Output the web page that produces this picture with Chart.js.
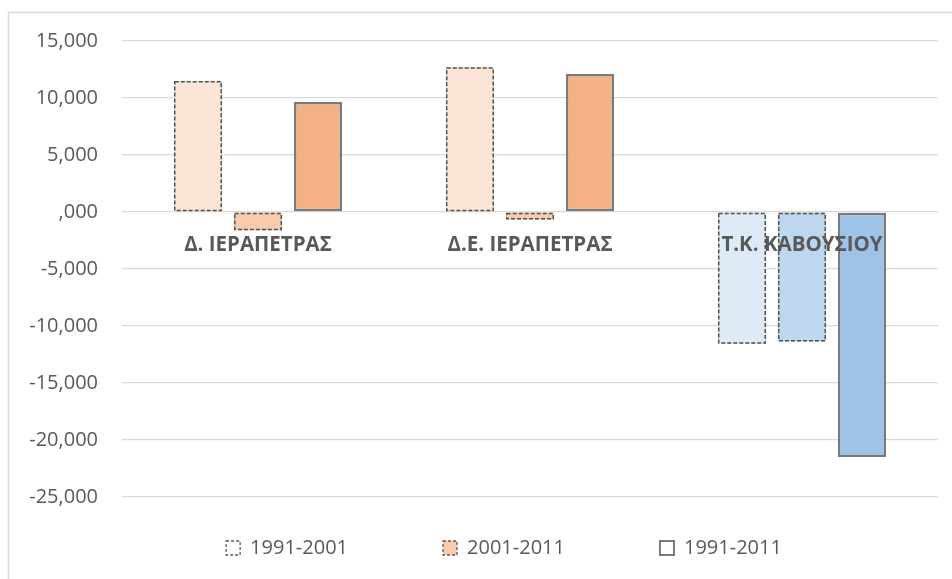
<!DOCTYPE html>
<html>
<head>
<meta charset="utf-8">
<script src="https://cdn.jsdelivr.net/npm/chart.js@4.4.1/dist/chart.umd.min.js"></script>
<style>
  html, body { margin: 0; padding: 0; background: #ffffff; }
  canvas { display: block; }
</style>
</head>
<body>
<canvas id="chart" width="952" height="579"></canvas>
<script>
// population change by area, three periods
const categories = ['Δ. ΙΕΡΑΠΕΤΡΑΣ', 'Δ.Ε. ΙΕΡΑΠΕΤΡΑΣ', 'Τ.Κ. ΚΑΒΟΥΣΙΟΥ'];
const seriesLabels = ['1991-2001', '2001-2011', '1991-2011'];
const change1991_2001 = [11500, 12700, -11550];
const change2001_2011 = [-1600, -650, -11350];
const change1991_2011 = [9650, 12100, -21500];
const yMin = -25000;
const yMax = 15000;
const yStep = 5000;

// shades per series: orange for the first two areas, blue for the village
const orangeShades = ['#FBE5D6', '#F8CBAD', '#F4B183'];
const blueShades = ['#DEEBF7', '#BDD7EE', '#9DC3E6'];
const categoryTone = ['orange', 'orange', 'blue'];

const TEXT = '#595959';
const GRID = '#D9D9D9';
const LEGEND_CENTER_X = 504;
const LEGEND_CENTER_Y = 548;

Chart.defaults.font.family = "'Open Sans', 'Noto Sans', sans-serif";
Chart.defaults.color = TEXT;

function shade(seriesIdx) {
  return (ctx) => categoryTone[ctx.dataIndex] === 'blue' ? blueShades[seriesIdx] : orangeShades[seriesIdx];
}

// grey frame around the whole chart (only top/left edges fall in view)
const chartFrame = {
  id: 'chartFrame',
  beforeDraw(chart) {
    const ctx = chart.ctx;
    ctx.save();
    ctx.fillStyle = '#ffffff';
    ctx.fillRect(0, 0, chart.width, chart.height);
    ctx.strokeStyle = GRID;
    ctx.lineWidth = 1.5;
    ctx.strokeRect(8.5, 12.5, chart.width + 20, chart.height + 20);
    ctx.restore();
  }
};

// Chart.js bars can't dash their border, so outline those here
const dashedOutline = {
  id: 'dashedOutline',
  afterDatasetsDraw(chart) {
    const ctx = chart.ctx;
    ctx.save();
    ctx.strokeStyle = '#505050';
    ctx.lineWidth = 1.5;
    chart.data.datasets.forEach((ds, i) => {
      if (!ds.outlineDash) return;
      ctx.setLineDash(ds.outlineDash);
      chart.getDatasetMeta(i).data.forEach(bar => {
        const { x, y, base, width } = bar.getProps(['x', 'y', 'base', 'width'], true);
        const top = Math.min(y, base);
        const h = Math.abs(base - y);
        ctx.strokeRect(x - width / 2 + 0.75, top + 0.75, width - 1.5, h - 1.5);
      });
    });
    ctx.restore();
  }
};

// put the legend row where Excel had it (legend clips to its own box,
// so only the top edge moves up)
const legendPlacement = {
  id: 'legendPlacement',
  afterLayout(chart) {
    const lg = chart.legend;
    const fontSize = lg.options.labels.font.size;
    const dy = LEGEND_CENTER_Y - (lg.top + lg.options.labels.padding + fontSize / 2);
    const dx = LEGEND_CENTER_X - (lg.left + lg.right) / 2;
    lg.top += dy;
    lg.left += dx;
    lg.right += dx;
  }
};

const legendBoxes = [
  { fillStyle: '#ffffff', strokeStyle: TEXT, lineDash: [3, 2], lineWidth: 1.3 },
  { fillStyle: '#F8CBAD', strokeStyle: TEXT, lineDash: [3, 2], lineWidth: 1.3 },
  { fillStyle: '#ffffff', strokeStyle: '#7a7a7a', lineDash: [], lineWidth: 2 }
];

new Chart(document.getElementById('chart'), {
  type: 'bar',
  data: {
    labels: categories,
    datasets: [
      {
        label: seriesLabels[0],
        data: change1991_2001,
        backgroundColor: shade(0),
        borderWidth: 0,
        outlineDash: [4, 2]
      },
      {
        label: seriesLabels[1],
        data: change2001_2011,
        backgroundColor: shade(1),
        borderWidth: 0,
        outlineDash: [4, 2]
      },
      {
        label: seriesLabels[2],
        data: change1991_2011,
        backgroundColor: shade(2),
        borderColor: '#7a7a7a',
        borderWidth: 2.5,
        borderSkipped: false
      }
    ]
  },
  options: {
    responsive: false,
    animation: false,
    categoryPercentage: 0.662,
    barPercentage: 0.8,
    layout: { padding: { top: 41, left: 8, right: 14, bottom: 0 } },
    plugins: {
      tooltip: { enabled: false },
      title: { display: false },
      legend: {
        position: 'bottom',
        maxHeight: 82,
        labels: {
          boxWidth: 14,
          boxHeight: 14,
          padding: 95,
          color: TEXT,
          font: { size: 20 },
          generateLabels: (chart) => chart.data.datasets.map((ds, i) => ({
            text: ds.label,
            datasetIndex: i,
            hidden: false,
            fontColor: TEXT,
            ...legendBoxes[i]
          }))
        }
      }
    },
    scales: {
      x: {
        position: { y: 0 },
        grid: { display: false, drawTicks: false },
        border: { display: false },
        ticks: {
          z: 1,
          autoSkip: false,
          maxRotation: 0,
          padding: 21,
          color: TEXT,
          font: { size: 20.5, weight: 'bold' }
        }
      },
      y: {
        min: yMin,
        max: yMax,
        afterFit: (scale) => { scale.width = 114; },
        grid: { color: GRID, lineWidth: 1.3, drawTicks: false },
        border: { display: false },
        ticks: {
          stepSize: yStep,
          padding: 24,
          color: TEXT,
          font: { size: 20 },
          callback: (v) => v === 0 ? ',000' : v.toLocaleString('en-US')
        }
      }
    }
  },
  plugins: [chartFrame, dashedOutline, legendPlacement]
});
</script>
</body>
</html>
